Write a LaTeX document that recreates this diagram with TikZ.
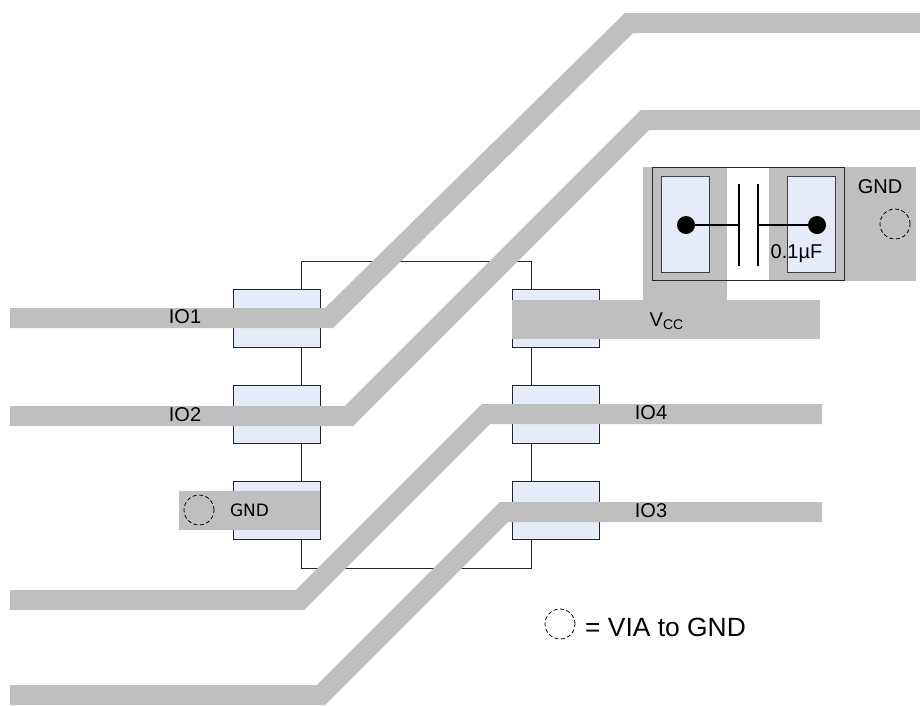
\documentclass[tikz,border=0pt]{standalone}
\usepackage{fontspec}
\setmainfont{Liberation Sans}
\newfontfamily\gndfont{DejaVu Sans}
\definecolor{tracegray}{HTML}{BFBFBF}
\definecolor{padblue}{HTML}{E6ECF7}
\begin{document}
\begin{tikzpicture}[
            x=1pt, y=-1pt,
            trace/.style={draw=tracegray, line width=20pt, miter limit=10},
            copper/.style={fill=tracegray, draw=none},
            pad/.style={draw=black!85, fill=padblue, line width=1pt, minimum width=87pt, minimum height=58pt, inner sep=0pt},
            cappad/.style={draw=black!75, fill=padblue, line width=1pt, minimum width=48pt, minimum height=96pt, inner sep=0pt},
            via/.style={circle, draw=black, dash pattern=on 4pt off 2.5pt, line width=0.8pt, minimum size=30pt, inner sep=0pt},
            dot/.style={circle, fill=black, minimum size=18pt, inner sep=0pt},
            label/.style={font=\fontsize{20}{22}\selectfont, inner sep=0pt, text=black}
          ]
          \useasboundingbox (0,0) rectangle (920,705);

          % Package outline
          \node[draw=black!85, line width=1pt, minimum width=230pt, minimum height=307pt, inner sep=0pt] (chip) at (416,414.5) {};

          % Left pads
          \node[pad] (padA) at (276.5,318.5) {};
          \node[pad] (padB) at (276.5,414) {};
          \node[pad] (padC) at (276.5,510) {};
          % Right pads
          \node[pad] (padD) at (555.5,318.5) {};
          \node[pad] (padE) at (555.5,414.5) {};
          \node[pad] (padF) at (555.5,510) {};

          % Traces
          \draw[trace] (10,318) -- (329,318) -- (629,23) -- (920,23);
          \draw[trace] (10,416) -- (349,416) -- (645,120) -- (920,120);
          \draw[trace] (10,600) -- (300,600) -- (486,414) -- (822,414);
          \draw[trace] (10,695) -- (321,695) -- (504,512) -- (822,512);

          % Copper areas
          \fill[copper] (512,300) rectangle (820,339);
          \fill[copper] (643,167) rectangle (727,300);
          \fill[copper] (769,167) rectangle (916,281);
          \fill[copper] (179,491) rectangle (320,530);

          % Capacitor
          \node[draw=black!85, line width=1pt, minimum width=192pt, minimum height=113pt, inner sep=0pt] (capbody) at (748,223.5) {};
          \node[cappad] (capL) at (685,224) {};
          \node[cappad] (capR) at (811,224) {};
          \node[dot] (dotL) at (686,225) {};
          \node[dot] (dotR) at (817,225) {};
          \coordinate (plateL) at (739,225);
          \coordinate (plateR) at (758,225);
          \draw[line width=1.5pt] (dotL) -- (plateL);
          \draw[line width=1.5pt] (dotR) -- (plateR);
          \draw[line width=2pt] (739,184) -- (739,266);
          \draw[line width=2pt] (758,184) -- (758,266);

          % Vias
          \node[via] (viaR) at (895,224) {};
          \node[via] (viaL) at (199,510) {};
          \node[via] (viaK) at (560,624) {};

          % Labels
          \node[label] (io1) at (185,317) {IO1};
          \node[label] (io2) at (185,415) {IO2};
          \node[label] (io4) at (651,413) {IO4};
          \node[label] (io3) at (651,511) {IO3};
          \node[label, anchor=west] (vcc) at (649.5,321) {V\textsubscript{CC}};
          \node[label] (capval) at (796.5,254) {0.1µF};
          \node[label] (gndR) at (880,187) {GND};
          \node[font=\gndfont\fontsize{17}{20}\selectfont, inner sep=0pt, text=black] (gndL) at (249.5,510) {GND};
          \node[label, font=\fontsize{26.4}{30}\selectfont, anchor=west] (key) at (585,627) {= VIA to GND};
        \end{tikzpicture}
\end{document}
